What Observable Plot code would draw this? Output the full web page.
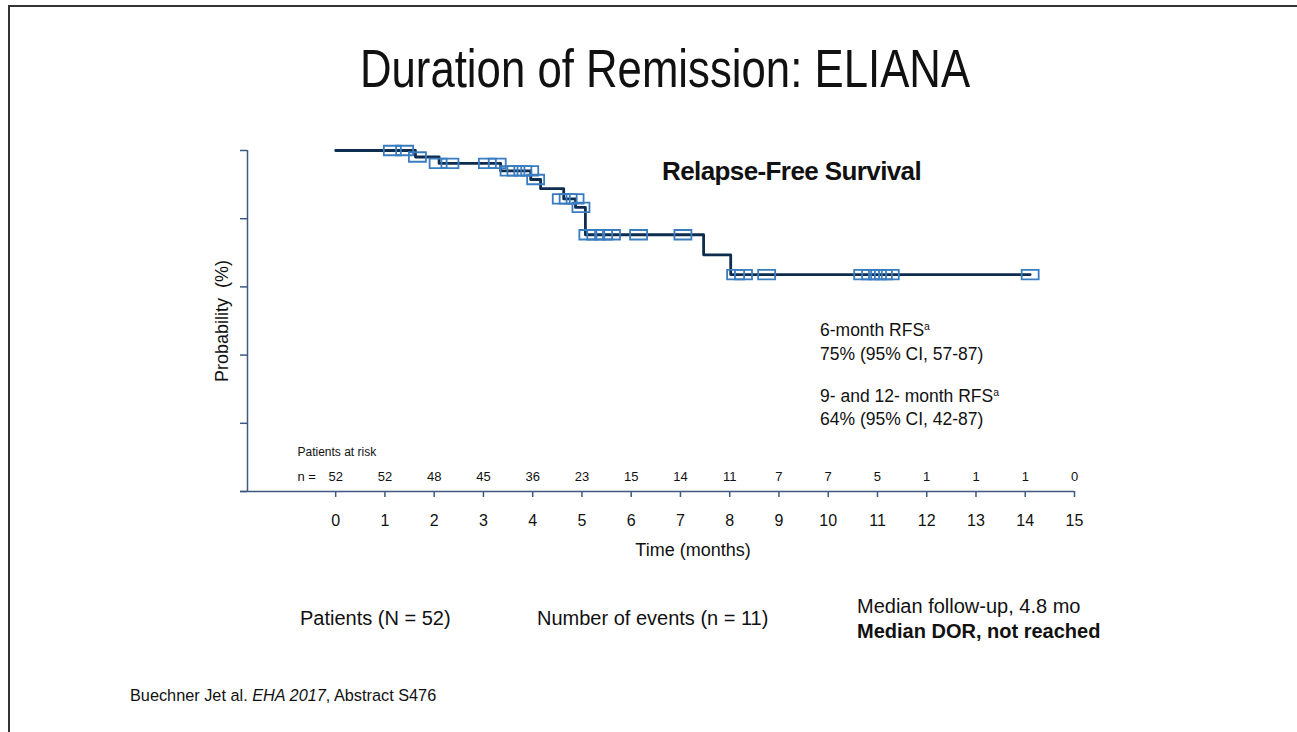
<!DOCTYPE html>
<html>
<head>
<meta charset="utf-8">
<script src="https://cdn.jsdelivr.net/npm/d3@7"></script>
<script src="https://cdn.jsdelivr.net/npm/@observablehq/plot@0.6"></script>
<style>
  html, body { margin: 0; padding: 0; background: #fff; }
  #page { position: relative; width: 1297px; height: 732px; overflow: hidden; background: #fff; font-family: "Liberation Sans", Arial, sans-serif; color: #111; }
  #page svg { position: absolute; left: 0; top: 0; }
  .t { position: absolute; line-height: 1; white-space: nowrap; transform-origin: 0 50%; }
  sup { font-size: 0.6em; vertical-align: 0.55em; line-height: 0; }
  .bt { position: absolute; background: #333; }
</style>
</head>
<body>
<div id="page">
  <div class="bt" style="left:8px; top:5px; right:0; height:2px;"></div>
  <div class="bt" style="left:8px; top:5px; bottom:0; width:2px;"></div>
</div>
<script>
// ---- data ----
const xTicks = [0,1,2,3,4,5,6,7,8,9,10,11,12,13,14,15];
const yTicks = [0,20,40,60,80,100];
const xOrigin = -1.79;            // where the y axis line sits on the time scale

// Kaplan-Meier step curve (time in months, probability %)
const stepTime = [0, 1.62, 2.10, 3.35, 3.96, 4.16, 4.63, 4.87, 5.07, 7.47, 8.02, 14.1];
const stepProb = [100, 98.1, 96.2, 94.0, 91.5, 88.8, 85.8, 83.3, 75.3, 69.4, 63.6, 63.6];

// censored observations
const censorTime = [1.15, 1.40, 1.66, 2.08, 2.32, 3.08, 3.28, 3.52, 3.66, 3.80, 3.94, 4.06,
                    4.58, 4.72, 4.86, 4.98, 5.12, 5.28, 5.44, 5.60, 6.15, 7.05,
                    8.12, 8.28, 8.75, 10.70, 10.86, 11.00, 11.12, 11.26, 14.1];
const censorProb = [100, 100, 98.1, 96.2, 96.2, 96.2, 96.2, 94.0, 94.0, 94.0, 94.0, 91.5,
                    85.8, 85.8, 85.8, 83.3, 75.3, 75.3, 75.3, 75.3, 75.3, 75.3,
                    63.6, 63.6, 63.6, 63.6, 63.6, 63.6, 63.6, 63.6, 63.6];

// patients at risk
const riskMonths = [0,1,2,3,4,5,6,7,8,9,10,11,12,13,14,15];
const riskN = [52,52,48,45,36,23,15,14,11,7,7,5,1,1,1,0];

const steps = stepTime.map((t, i) => ({t, p: stepProb[i]}));
const censors = censorTime.map((t, i) => ({t, p: censorProb[i]}));

// ---- styles ----
const axisColor = "#3d5a80";
const curveColor = "#0e2c4e";
const censorColor = "#3a7cc0";

const rectSymbol = {
  draw(ctx, size) {
    const r = Math.sqrt(size / Math.PI);
    const w = r * 1.7, h = r * 0.95;
    ctx.moveTo(-w, -h); ctx.lineTo(w, -h); ctx.lineTo(w, h); ctx.lineTo(-w, h); ctx.closePath();
  }
};

const chart = Plot.plot({
  width: 1297,
  height: 732,
  marginLeft: 247,
  marginRight: 223,
  marginTop: 150,
  marginBottom: 241,
  style: {background: "transparent", fontFamily: "'Liberation Sans', Arial, sans-serif", color: "#111"},
  x: {domain: [xOrigin, 15]},
  y: {domain: [0, 100]},
  marks: [
    Plot.ruleX([xOrigin], {y1: 0, y2: 100, stroke: axisColor, strokeWidth: 1.5}),
    Plot.ruleY([0], {x1: xOrigin, x2: 15, insetLeft: -7, stroke: axisColor, strokeWidth: 1.5}),
    Plot.axisY({ticks: yTicks, tickSize: 7, tickFormat: () => "", stroke: axisColor, strokeWidth: 1.5, label: null}),
    Plot.axisX({ticks: xTicks, tickSize: 6, tickPadding: 17, fontSize: 16, stroke: axisColor, strokeWidth: 1.5, label: null, tickFormat: d => String(d)}),
    Plot.text(["Time (months)"], {frameAnchor: "bottom", dx: 32, dy: 64, fontSize: 18}),
    Plot.text(["Probability  (%)"], {frameAnchor: "left", textAnchor: "middle", dx: -25, rotate: -90, fontSize: 18}),
    Plot.line(steps, {x: "t", y: "p", curve: "step-after", stroke: curveColor, strokeWidth: 2.8}),
    Plot.dot(censors, {x: "t", y: "p", symbol: rectSymbol, r: 5, stroke: censorColor, strokeWidth: 1.8, fill: "none"}),
    Plot.text(["Patients at risk"], {frameAnchor: "bottom-left", dx: 50, dy: -36, textAnchor: "start", fontSize: 12}),
    Plot.text(["n ="], {frameAnchor: "bottom-left", dx: 50, dy: -11, textAnchor: "start", fontSize: 13}),
    Plot.text(riskMonths, {x: d => d, text: (d, i) => String(riskN[i]), frameAnchor: "bottom", dy: -11, fontSize: 13})
  ]
});
document.getElementById("page").appendChild(chart);

// ---- slide texts ----
const texts = [
  {html: "Duration of Remission: ELIANA", x: 665, y: 68, size: 54, anchor: "middle", sx: 0.81},
  {html: "Relapse-Free Survival", x: 662, y: 171, size: 26, weight: "bold", ls: -0.6},
  {html: "6-month RFS<sup>a</sup>", x: 820, y: 331, size: 17.5},
  {html: "75% (95% CI, 57-87)", x: 820, y: 355, size: 17.5},
  {html: "9- and 12- month RFS<sup>a</sup>", x: 820, y: 397, size: 17.5},
  {html: "64% (95% CI, 42-87)", x: 820, y: 420, size: 17.5},
  {html: "Patients (N = 52)", x: 300, y: 618, size: 20},
  {html: "Number of events (n = 11)", x: 537, y: 618, size: 20},
  {html: "Median follow-up, 4.8 mo", x: 857, y: 606, size: 20},
  {html: "Median DOR, not reached", x: 857, y: 631, size: 20, weight: "bold"},
  {html: "Buechner Jet al. <i>EHA 2017</i>, Abstract S476", x: 130, y: 695, size: 16.3}
];
const page = document.getElementById("page");
for (const t of texts) {
  const d = document.createElement("div");
  d.className = "t";
  d.innerHTML = t.html;
  d.style.left = t.x + "px";
  d.style.top = t.y + "px";
  d.style.fontSize = t.size + "px";
  if (t.weight) d.style.fontWeight = t.weight;
  if (t.ls) d.style.letterSpacing = t.ls + "px";
  const sx = t.sx ? ` scaleX(${t.sx})` : "";
  if (t.anchor === "middle") { d.style.transformOrigin = "50% 50%"; d.style.transform = "translate(-50%,-50%)" + sx; }
  else d.style.transform = "translate(0,-50%)" + sx;
  page.appendChild(d);
}
</script>
</body>
</html>
